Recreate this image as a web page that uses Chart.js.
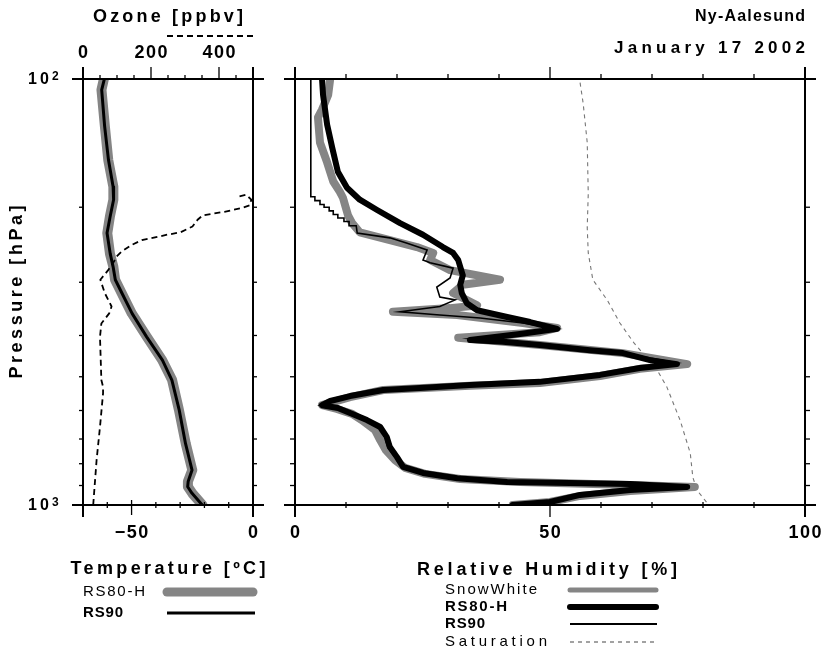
<!DOCTYPE html>
<html>
<head>
<meta charset="utf-8">
<script src="https://cdn.jsdelivr.net/npm/chart.js@4.4.1/dist/chart.umd.min.js"></script>
<style>
  body { margin: 0; background: #fff; }
  #wrap { position: relative; width: 826px; height: 650px; }
  canvas { position: absolute; left: 0; top: 0; }
</style>
</head>
<body>
<div id="wrap">
  <canvas id="tChart" width="826" height="650"></canvas>
  <canvas id="rhChart" width="826" height="650"></canvas>
</div>
<script>
// ---------- data (pressure in hPa) ----------
const tempP    = [100, 106, 129, 155, 179, 192, 210, 230, 257, 276, 296, 318, 355, 403, 457, 509, 598, 717, 828, 881, 906, 939, 1000];
const tempRS80 = [-61.4, -62.4, -61.0, -59.6, -57.5, -57.5, -58.9, -60.0, -58.9, -57.5, -56.8, -54.1, -49.9, -43.7, -37.4, -33.3, -30.5, -27.7, -25.0, -26.8, -26.8, -25.0, -20.8];
const tempRS90 = [-61.2, -62.3, -61.1, -59.5, -57.6, -57.4, -58.8, -60.1, -58.8, -57.6, -56.7, -54.0, -49.8, -43.8, -37.3, -33.4, -30.4, -27.8, -25.1, -26.7, -26.9, -25.1, -20.9];

const ozoneP = [1000, 784, 655, 547, 528, 509, 403, 375, 355, 342, 318, 296, 281, 266, 261, 254, 245, 239, 232, 229, 222, 214, 209, 205, 201, 198, 192, 187, 189];
const ozone  = [30, 40, 50, 59, 59, 54, 50, 54, 77, 84, 64, 51, 74, 94, 99, 114, 144, 173, 248, 287, 322, 337, 352, 416, 465, 490, 495, 480, 455];

const swP  = [100, 109, 118, 123, 141, 157, 174, 184, 190, 209, 218, 229, 239, 248, 256, 266, 281, 296, 304, 318, 340, 345, 352, 358, 374, 384, 393, 405, 421, 440, 467, 479, 498, 517, 525, 537, 558, 583, 595, 611, 632, 667, 704, 743, 784, 818, 845, 869, 883, 898, 907, 927, 952, 984, 1000];
const swRH = [6.9, 6.5, 5.3, 4.5, 4.9, 6.3, 7.5, 8.8, 9.4, 10.4, 11.2, 12.7, 18.6, 23.9, 27.1, 26.5, 30.4, 40.2, 32.9, 31.0, 35.7, 30.4, 19.2, 31.8, 44.7, 51.4, 48.0, 32.0, 48.0, 64.3, 76.9, 67.6, 59.8, 48.0, 34.3, 17.3, 10.8, 5.3, 8.2, 11.2, 13.1, 15.7, 16.7, 17.8, 19.6, 21.6, 25.5, 32.4, 44.1, 65.7, 78.4, 65.7, 55.9, 50.0, 42.7];

const rs80P  = [100, 109, 128, 145, 165, 180, 192, 203, 218, 232, 248, 256, 266, 289, 304, 318, 336, 349, 362, 372, 386, 397, 410, 414, 421, 433, 440, 457, 467, 477, 495, 514, 523, 531, 537, 555, 570, 583, 592, 608, 632, 656, 693, 731, 772, 814, 841, 865, 883, 888, 893, 907, 922, 947, 984, 1000];
const rs80RH = [5.3, 5.5, 6.3, 7.3, 8.4, 10.2, 12.7, 16.1, 20.6, 25.1, 29.0, 31.0, 32.0, 32.9, 32.4, 32.7, 33.7, 35.7, 41.6, 46.1, 51.4, 44.1, 34.3, 40.8, 48.0, 57.8, 64.3, 69.6, 74.9, 67.6, 59.8, 48.0, 34.3, 24.5, 17.3, 10.8, 6.9, 5.3, 8.4, 10.8, 14.1, 16.7, 18.0, 18.6, 20.0, 21.2, 25.1, 31.8, 41.6, 53.9, 65.7, 76.9, 65.7, 55.9, 50.0, 42.7];

const rs90P  = [100, 189, 189, 193, 193, 197, 197, 200, 200, 204, 204, 208, 208, 212, 212, 216, 216, 221, 221, 230, 236, 243, 252, 266, 270, 278, 293, 308, 325, 330, 342, 352, 358, 364, 374, 386, 407, 421, 440, 464, 477, 495, 514, 523, 531, 537, 555, 570, 583, 592, 608, 632, 656, 693, 731, 772, 814, 841, 865, 883, 888, 893, 907, 922, 947, 984, 1000];
const rs90RH = [3.1, 3.1, 3.9, 3.9, 4.9, 4.9, 5.7, 5.7, 6.7, 6.7, 7.5, 7.5, 8.4, 8.4, 9.6, 9.6, 10.6, 10.6, 12.0, 12.2, 18.6, 22.0, 25.9, 25.1, 26.5, 31.0, 30.4, 27.8, 28.4, 31.4, 28.4, 20.6, 28.4, 36.3, 44.7, 51.4, 34.3, 48.0, 64.3, 74.9, 67.6, 59.8, 48.0, 34.3, 24.5, 17.3, 10.8, 6.9, 4.9, 8.2, 10.8, 14.1, 16.7, 17.6, 18.2, 19.6, 21.2, 25.1, 31.8, 41.6, 53.9, 65.7, 76.9, 65.7, 55.9, 50.0, 42.7];

const satP  = [102, 114, 141, 186, 223, 256, 296, 330, 374, 417, 449, 482, 528, 632, 755, 860, 922, 989];
const satRH = [55.9, 56.5, 57.3, 57.5, 57.3, 57.5, 58.4, 61.2, 63.7, 66.5, 68.8, 71.0, 72.9, 75.5, 77.5, 78.0, 78.8, 80.8];

// ---------- ticks ----------
const pressureTicks = [200, 300, 400, 500, 600, 700, 800, 900];
const tempTicks   = [-70, -60, -50, -40, -30, -20, -10, 0];
const tempLabels  = [-50, 0];
const ozoneTicks  = [0, 50, 100, 150, 200, 250, 300, 350, 400, 450, 500];
const ozoneLabels = [0, 200, 400];
const rhTicks     = [0, 10, 20, 30, 40, 50, 60, 70, 80, 90, 100];
const rhLabels    = [0, 50, 100];

const FONT = '"Liberation Sans", Arial, sans-serif';
const GRAY = '#858585';

function pts(xs, ps) { return xs.map((v, i) => ({ x: v, y: ps[i] })); }

// text with letter spacing; width given -> spacing fitted to it
function spaced(ctx, s, x, y, font, opt) {
  ctx.save();
  ctx.font = font;
  ctx.letterSpacing = '0px';
  const raw = ctx.measureText(s).width;
  const n = [...s].length;
  let ls = opt.ls || 0;
  if (opt.width && n > 1) ls = Math.max(0, (opt.width - raw) / (n - 1));
  const w = raw + ls * (n - 1);
  const x0 = opt.align === 'center' ? x - w / 2 : opt.align === 'right' ? x - w : x;
  ctx.letterSpacing = ls + 'px';
  ctx.fillStyle = '#000';
  ctx.textAlign = 'left';
  ctx.textBaseline = 'middle';
  ctx.fillText(s, x0, y);
  ctx.restore();
}

function line(ctx, x1, y1, x2, y2) {
  ctx.beginPath(); ctx.moveTo(x1, y1); ctx.lineTo(x2, y2); ctx.stroke();
}

function sample(ctx, x1, x2, y, color, width, dash, cap) {
  ctx.save();
  ctx.strokeStyle = color; ctx.lineWidth = width;
  ctx.setLineDash(dash || []); ctx.lineCap = cap || 'butt';
  line(ctx, x1, y, x2, y);
  ctx.restore();
}

function frame(ctx, a) {
  ctx.strokeStyle = '#000';
  ctx.lineWidth = 2;
  line(ctx, a.left - 11, a.top, a.right + 11, a.top);
  line(ctx, a.left - 11, a.bottom, a.right + 11, a.bottom);
  line(ctx, a.left, a.top - 12, a.left, a.bottom + 12);
  line(ctx, a.right, a.top - 12, a.right, a.bottom + 12);
}

function fmt(v) { return String(v).replace('-', '\u2212'); }

const tickFont = 'bold 18px ' + FONT;

const leftDeco = {
  id: 'leftDeco',
  afterDraw(chart) {
    const ctx = chart.ctx, a = chart.chartArea;
    const sx = chart.scales.x, so = chart.scales.xo, sy = chart.scales.y;
    ctx.save();
    frame(ctx, a);
    ctx.lineWidth = 1.3;
    ozoneTicks.forEach(v => {
      const x = so.getPixelForValue(v);
      const major = ozoneLabels.includes(v);
      line(ctx, x, a.top - (major ? 12 : 4), x, a.top);
    });
    tempTicks.forEach(v => {
      const x = sx.getPixelForValue(v);
      const major = tempLabels.includes(v);
      line(ctx, x, a.bottom - (major ? 5 : 3), x, a.bottom + (major ? 10 : 3));
    });
    pressureTicks.forEach(p => {
      const y = sy.getPixelForValue(p);
      line(ctx, a.left - 4, y, a.left, y);
      line(ctx, a.right, y, a.right + 4, y);
    });
    ozoneLabels.forEach(v => spaced(ctx, fmt(v), so.getPixelForValue(v), 53, tickFont, { ls: 1.5, align: 'center' }));
    tempLabels.forEach(v => spaced(ctx, fmt(v), sx.getPixelForValue(v), 533, tickFont, { ls: 1.5, align: 'center' }));

    // pressure decade labels
    [[100, '2'], [1000, '3']].forEach(([p, e]) => {
      const y = sy.getPixelForValue(p);
      spaced(ctx, '10', 28, y + 1, 'bold 16px ' + FONT, { width: 21 });
      spaced(ctx, e, 52, y - 2, 'bold 12px ' + FONT, {});
    });

    // titles
    spaced(ctx, 'Ozone [ppbv]', 168, 17, 'bold 18px ' + FONT, { width: 150, align: 'center' });
    sample(ctx, 167, 253, 36, '#000', 2, [6, 4]);
    ctx.save();
    ctx.translate(17, 292);
    ctx.rotate(-Math.PI / 2);
    spaced(ctx, 'Pressure [hPa]', 0, 0, 'bold 18px ' + FONT, { width: 173, align: 'center' });
    ctx.restore();

    // legend
    spaced(ctx, 'Temperature [\u00BAC]', 168, 569, 'bold 18px ' + FONT, { width: 195, align: 'center' });
    spaced(ctx, 'RS80-H', 83, 592, '15px ' + FONT, { width: 62 });
    sample(ctx, 167, 253, 592, GRAY, 9, null, 'round');
    spaced(ctx, 'RS90', 83, 613, 'bold 15px ' + FONT, { width: 40 });
    sample(ctx, 167, 255, 613, '#000', 3);
    ctx.restore();
  }
};

const rightDeco = {
  id: 'rightDeco',
  afterDraw(chart) {
    const ctx = chart.ctx, a = chart.chartArea;
    const sx = chart.scales.x, sy = chart.scales.y;
    ctx.save();
    frame(ctx, a);
    ctx.lineWidth = 1.3;
    rhTicks.forEach(v => {
      const x = sx.getPixelForValue(v);
      const major = rhLabels.includes(v);
      line(ctx, x, a.top - (major ? 12 : 5), x, a.top);
      line(ctx, x, a.bottom - 3, x, a.bottom + (major ? 12 : 3));
    });
    pressureTicks.forEach(p => {
      const y = sy.getPixelForValue(p);
      line(ctx, a.left - 5, y, a.left, y);
      line(ctx, a.right, y, a.right + 5, y);
    });
    rhLabels.forEach(v => spaced(ctx, fmt(v), sx.getPixelForValue(v), 533, tickFont, { ls: 1.5, align: 'center' }));

    spaced(ctx, 'Ny-Aalesund', 805, 17, 'bold 16px ' + FONT, { width: 110, align: 'right' });
    spaced(ctx, 'January 17 2002', 805, 48, 'bold 17px ' + FONT, { width: 191, align: 'right' });

    spaced(ctx, 'Relative Humidity [%]', 547, 570, 'bold 18px ' + FONT, { width: 260, align: 'center' });
    spaced(ctx, 'SnowWhite', 445, 590, '15px ' + FONT, { width: 92 });
    sample(ctx, 570, 656, 590, GRAY, 5, null, 'round');
    spaced(ctx, 'RS80-H', 445, 607, 'bold 15px ' + FONT, { width: 62 });
    sample(ctx, 570, 656, 607, '#000', 6, null, 'round');
    spaced(ctx, 'RS90', 445, 624, 'bold 15px ' + FONT, { width: 40 });
    sample(ctx, 570, 657, 624, '#000', 1.8);
    spaced(ctx, 'Saturation', 445, 642, '15px ' + FONT, { width: 102 });
    sample(ctx, 570, 657, 642, '#666', 1.2, [4, 4]);
    ctx.restore();
  }
};

const common = {
  responsive: false,
  animation: false,
  events: [],
  plugins: { legend: { display: false }, tooltip: { enabled: false } },
  elements: { point: { radius: 0 }, line: { tension: 0, borderJoinStyle: 'round', borderCapStyle: 'round' } }
};

new Chart(document.getElementById('tChart'), {
  type: 'scatter',
  data: {
    datasets: [
      { data: pts(ozone, ozoneP), xAxisID: 'xo', showLine: true, borderColor: '#000', borderWidth: 1.8, borderDash: [6, 4], borderCapStyle: 'butt', clip: 0 },
      { data: pts(tempRS90, tempP), showLine: true, borderColor: '#000', borderWidth: 3, clip: 0 },
      { data: pts(tempRS80, tempP), showLine: true, borderColor: GRAY, borderWidth: 10, clip: 0 }
    ]
  },
  options: {
    ...common,
    layout: { padding: { left: 83, right: 573, top: 79, bottom: 145 } },
    scales: {
      x:  { type: 'linear', min: -70, max: 0, display: false },
      xo: { type: 'linear', min: 0, max: 500, display: false, position: 'top' },
      y:  { type: 'logarithmic', min: 100, max: 1000, reverse: true, display: false }
    }
  },
  plugins: [leftDeco]
});

new Chart(document.getElementById('rhChart'), {
  type: 'scatter',
  data: {
    datasets: [
      { data: pts(rs90RH, rs90P), showLine: true, borderColor: '#000', borderWidth: 1.6, borderCapStyle: 'butt', borderJoinStyle: 'miter', clip: 0 },
      { data: pts(rs80RH, rs80P), showLine: true, borderColor: '#000', borderWidth: 6, clip: 0 },
      { data: pts(swRH, swP), showLine: true, borderColor: GRAY, borderWidth: 8, clip: 0 },
      { data: pts(satRH, satP), showLine: true, borderColor: '#777', borderWidth: 1.1, borderDash: [4, 4], borderCapStyle: 'butt', clip: 0 }
    ]
  },
  options: {
    ...common,
    layout: { padding: { left: 295, right: 21, top: 79, bottom: 145 } },
    scales: {
      x: { type: 'linear', min: 0, max: 100, display: false },
      y: { type: 'logarithmic', min: 100, max: 1000, reverse: true, display: false }
    }
  },
  plugins: [rightDeco]
});
</script>
</body>
</html>
